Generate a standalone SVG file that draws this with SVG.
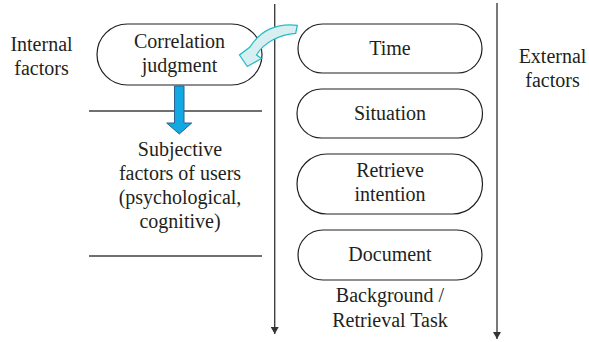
<svg xmlns="http://www.w3.org/2000/svg" width="589" height="342" viewBox="0 0 589 342">
<style>
text{font-size:20px;fill:#231f20;text-anchor:middle}
.n{fill:#fff;stroke:#231f20;stroke-width:1.2}
.l{stroke:#404040;stroke-width:1.4;fill:none}
</style>
<defs>
<marker id="ah" markerWidth="7" markerHeight="8" refX="7" refY="4" orient="auto" markerUnits="userSpaceOnUse" viewBox="0 0 7 8">
<path d="M0,0 L7,4 L0,8 Z" fill="#333"/>
</marker>
</defs>
<rect width="589" height="342" fill="#fff"/>
<g font-family="Liberation Serif, DejaVu Serif, serif">
<g id="labels">
<text x="41.5" y="50.5">Internal</text>
<text x="41.5" y="75">factors</text>
<text x="552.5" y="63">External</text>
<text x="552.5" y="87">factors</text>
<text x="180" y="156">Subjective</text>
<text x="180" y="180">factors of users</text>
<text x="180" y="204">(psychological,</text>
<text x="180" y="228">cognitive)</text>
<text x="390" y="302">Background /</text>
<text x="390" y="326.5">Retrieval Task</text>
</g>
<g id="correlation">
<rect class="n" x="97" y="24" width="165" height="61" rx="30.5"/>
<text x="179.5" y="47.7">Correlation</text>
<text x="179.5" y="71.7">judgment</text>
</g>
<g id="time">
<rect class="n" x="298" y="24" width="184" height="49" rx="24.5"/>
<text x="390" y="55">Time</text>
</g>
<g id="situation">
<rect class="n" x="297" y="89" width="185.5" height="49" rx="24.5"/>
<text x="390" y="120">Situation</text>
</g>
<g id="intention">
<rect class="n" x="297" y="154" width="185.5" height="60" rx="30"/>
<text x="390" y="177">Retrieve</text>
<text x="390" y="201">intention</text>
</g>
<g id="document">
<rect class="n" x="298" y="230" width="184" height="50" rx="25"/>
<text x="390" y="261">Document</text>
</g>
</g>
<g id="connectors">
<line class="l" x1="89" y1="111" x2="262" y2="111"/>
<line class="l" x1="89" y1="256" x2="262" y2="256"/>
<line class="l" x1="274.7" y1="4" x2="274.7" y2="334" marker-end="url(#ah)"/>
<line class="l" x1="497" y1="3" x2="497" y2="339" marker-end="url(#ah)"/>
<path d="M174.5,86 L184,86 L184,123 L191.7,123 L179.3,134 L166.7,123 L174.5,123 Z" fill="#13a8e2" stroke="#2a6392" stroke-width="1"/>
<path d="M297.3,25.3 C280,23.5 262,28 250,47 L239.5,55 L247.3,66.5 L261.5,58.5 L256.5,55 C264,42 280,34.5 295.7,33.3 Z" fill="#d8eff2" stroke="#25bcc4" stroke-width="1.3" stroke-linejoin="miter"/>
</g>
</svg>
